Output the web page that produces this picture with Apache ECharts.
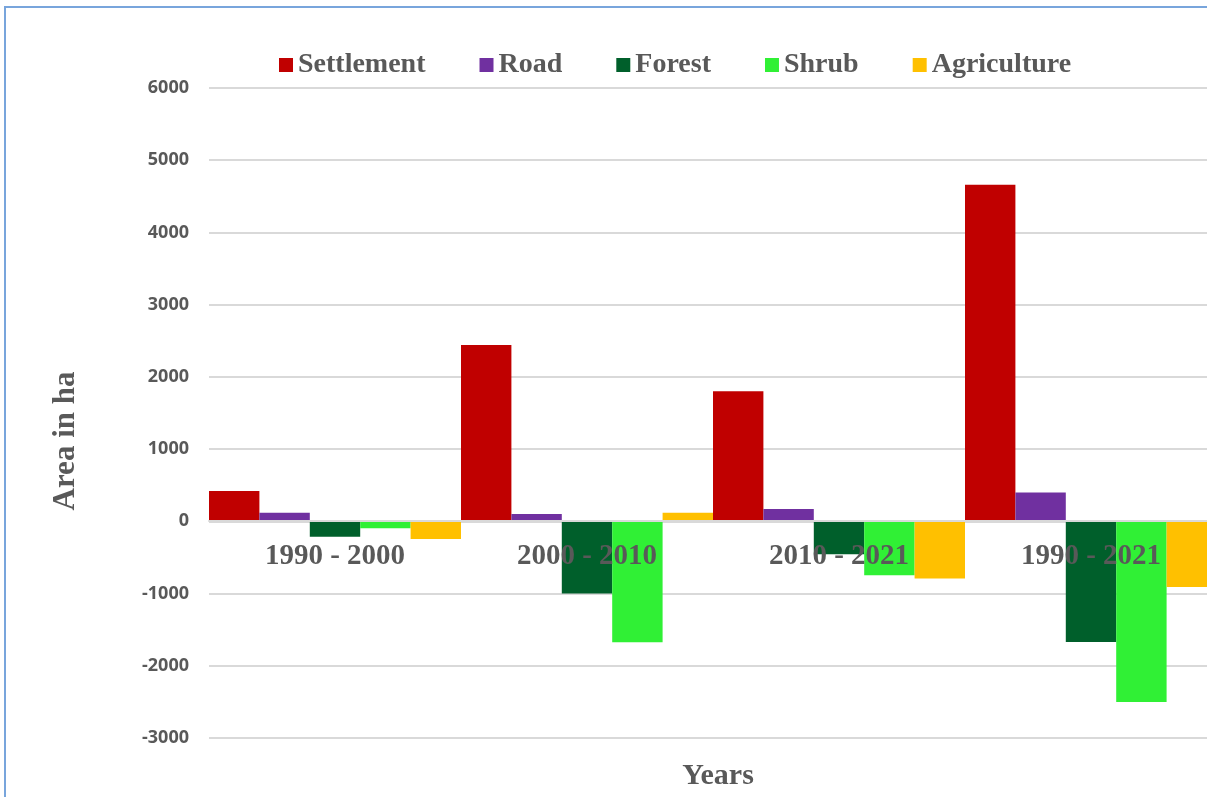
<!DOCTYPE html>
<html>
<head>
    <meta charset="utf-8">
    <title>Land cover change</title>
    <script src="https://cdn.jsdelivr.net/npm/echarts@6.0.0/dist/echarts.min.js"></script>
    <style>
        body { margin: 0; background: #fff; }
        #chart { width: 1207px; height: 797px; }
    </style>
</head>
<body>
<div id="chart"></div>
<script>
// 数据
var periods = ['1990 - 2000', '2000 - 2010', '2010 - 2021', '1990 - 2021'];
var settlement = [420, 2440, 1800, 4660];
var road = [120, 100, 170, 400];
var forest = [-215, -1000, -455, -1670];
var shrub = [-95, -1675, -745, -2500];
var agriculture = [-245, 120, -790, -910];
var yTicks = { min: -3000, max: 6000, step: 1000 };

var serif = '"Liberation Serif", "Times New Roman", serif';
var grey = '#595959';

var chart = echarts.init(document.getElementById('chart'));

function bar(name, data, color) {
    return {
        name: name,
        type: 'bar',
        data: data,
        barGap: '0%',
        barCategoryGap: '0%',
        itemStyle: { color: color }
    };
}

var option = {
    backgroundColor: '#fff',
    animation: false,
    title: {
        text: 'Years',
        left: 713,
        top: 756,
        textAlign: 'center',
        textStyle: { fontFamily: serif, fontWeight: 'bold', fontSize: 30, color: grey }
    },
    legend: {
        left: 274,
        top: 46,
        itemWidth: 14,
        itemHeight: 14,
        itemGap: 54,
        icon: 'rect',
        textStyle: { fontFamily: serif, fontWeight: 'bold', fontSize: 28, color: grey }
    },
    // 绘图区超出画面右边
    grid: {
        left: 209, width: 1008, top: 88, bottom: 59,
        containLabel: false,
        outerBoundsMode: 'none'
    },
    xAxis: {
        type: 'category',
        data: periods,
        z: 10,
        position: 'bottom',
        offset: -217,   // 把轴放到 0 的位置
        axisTick: { show: false },
        axisLine: { onZero: false, lineStyle: { color: '#d9d9d9', width: 2 } },
        axisLabel: {
            margin: 21,
            interval: 0,
            fontFamily: serif,
            fontWeight: 'bold',
            fontSize: 29,
            color: grey
        }
    },
    yAxis: {
        type: 'value',
        min: yTicks.min,
        max: yTicks.max,
        interval: yTicks.step,
        axisLine: { show: false },
        axisTick: { show: false },
        axisLabel: {
            margin: 20,
            fontFamily: '"Open Sans", sans-serif',
            fontWeight: 'bold',
            fontSize: 18,
            color: grey,
            formatter: function (v) { return String(v); }
        },
        splitLine: { lineStyle: { color: '#d9d9d9', width: 2 } }
    },
    graphic: [
        {
            type: 'text',
            x: 66,
            y: 441,
            rotation: Math.PI / 2,
            style: {
                text: 'Area in ha',
                fontFamily: serif,
                fontWeight: 'bold',
                fontSize: 31,
                fill: grey,
                align: 'center',
                verticalAlign: 'middle'
            }
        },
        {
            type: 'rect',
            shape: { x: 5, y: 7, width: 1400, height: 900 },
            style: { fill: 'none', stroke: '#78a5dc', lineWidth: 2 },
            silent: true
        }
    ],
    series: [
        bar('Settlement', settlement, '#c00000'),
        bar('Road', road, '#7030a0'),
        bar('Forest', forest, '#005f2b'),
        bar('Shrub', shrub, '#30f035'),
        bar('Agriculture', agriculture, '#ffc000')
    ]
};

chart.setOption(option);
</script>
</body>
</html>
